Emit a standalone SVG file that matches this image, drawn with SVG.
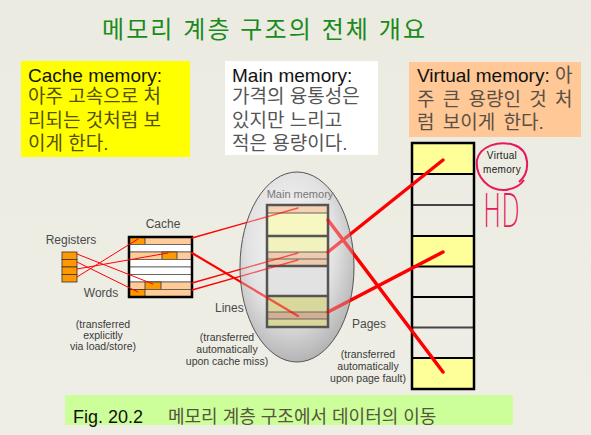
<svg xmlns="http://www.w3.org/2000/svg" width="591" height="435" viewBox="0 0 591 435">
<defs>
<style>
.t{font-family:"Liberation Sans",Arial,sans-serif}
.k{font-family:"Liberation Sans","Noto Sans CJK KR",sans-serif}
.lbl{font-family:"Liberation Sans",Arial,sans-serif;font-size:12px;fill:#4a4a4a}
.sm{font-family:"Liberation Sans",Arial,sans-serif;font-size:10.5px;fill:#3a3a3a;text-anchor:middle}
.or{fill:#FF9900;stroke:#333;stroke-width:0.8}
.pe{fill:#FFCC99;stroke:#555;stroke-width:0.8}
.wh{fill:#FFFFFF;stroke:#555;stroke-width:0.8}
.vy{fill:#FFFF99}
.red{stroke:#FF0000;fill:none;stroke-linecap:round}
</style>
<radialGradient id="eg" cx="0.45" cy="0.38" r="0.7">
<stop offset="0" stop-color="#FAFAFA"/>
<stop offset="0.55" stop-color="#E2E2E2"/>
<stop offset="1" stop-color="#A6A6A6"/>
</radialGradient>
<linearGradient id="bg" x1="0" y1="0" x2="0" y2="1">
<stop offset="0" stop-color="#EBEBE1"/>
<stop offset="1" stop-color="#EEEEE6"/>
</linearGradient>
<mask id="em" maskUnits="userSpaceOnUse" x="0" y="0" width="591" height="435">
<rect x="0" y="0" width="591" height="435" fill="#fff"/>
<ellipse cx="297" cy="267" rx="57" ry="95" fill="#9a9a9a"/>
</mask>
</defs>
<rect x="0" y="0" width="591" height="435" fill="url(#bg)"/>

<text class="k" x="263.5" y="38" font-size="24" fill="#1A8A1A" text-anchor="middle" textLength="323" lengthAdjust="spacing">메모리 계층 구조의 전체 개요</text>

<g id="cache-note">
<rect x="21" y="61" width="169" height="96" fill="#FFFF00"/>
<text class="t" x="28" y="82" font-size="19" fill="#111">Cache memory:</text>
<text class="k" x="28" y="103" font-size="19" fill="#55500A">아주 고속으로 처</text>
<text class="k" x="28" y="127" font-size="19" fill="#55500A">리되는 것처럼 보</text>
<text class="k" x="28" y="150" font-size="19" fill="#55500A">이게 한다.</text>
</g>

<g id="main-note">
<rect x="225" y="61" width="153" height="94" fill="#FFFFFF"/>
<text class="t" x="232" y="82" font-size="19" fill="#111">Main memory:</text>
<text class="k" x="232" y="103" font-size="19" fill="#555">가격의 융통성은</text>
<text class="k" x="232" y="127" font-size="19" fill="#555">있지만 느리고</text>
<text class="k" x="232" y="150" font-size="19" fill="#555">적은 용량이다.</text>
</g>

<g id="virtual-note">
<rect x="409" y="62" width="172" height="75" fill="#FFC896"/>
<text class="k" x="417" y="82" font-size="19"><tspan fill="#111">Virtual memory:</tspan><tspan fill="#5a4f45"> 아</tspan></text>
<text class="k" x="417" y="106" font-size="19" fill="#5a4f45" word-spacing="3">주 큰 용량인 것 처</text>
<text class="k" x="417" y="129" font-size="19" fill="#5a4f45" word-spacing="3">럼 보이게 한다.</text>
</g>

<g id="registers">
<rect class="or" x="62" y="252" width="15" height="7.5"/>
<rect class="or" x="62" y="259.5" width="15" height="7.5"/>
<rect class="or" x="62" y="267" width="15" height="7.5"/>
<rect class="or" x="62" y="274.5" width="15" height="7.5"/>
<text class="lbl" x="71" y="244" text-anchor="middle">Registers</text>
</g>

<g id="cache">
<rect class="pe" x="129" y="237" width="63" height="7.5"/>
<rect class="or" x="129" y="237" width="16" height="7.5"/>
<rect class="wh" x="129" y="244.5" width="63" height="7.5"/>
<rect class="pe" x="129" y="252" width="63" height="7.5"/>
<rect class="or" x="162" y="252" width="15" height="7.5"/>
<rect class="wh" x="129" y="259.5" width="63" height="7.5"/>
<rect class="wh" x="129" y="267" width="63" height="7.5"/>
<rect class="wh" x="129" y="274.5" width="63" height="7.5"/>
<rect class="pe" x="129" y="282" width="63" height="7.5"/>
<rect class="or" x="145" y="282" width="16" height="7.5"/>
<rect class="pe" x="129" y="289.5" width="63" height="7.5"/>
<rect class="or" x="129" y="289.5" width="16" height="7.5"/>
<rect x="129" y="237" width="63" height="60" fill="none" stroke="#000" stroke-width="2.5"/>
<text class="lbl" x="163" y="228" text-anchor="middle">Cache</text>
</g>

<g id="virtual-memory">
<rect class="vy" x="412" y="143" width="62" height="31"/>
<rect class="vy" x="412" y="236" width="62" height="30.5"/>
<rect class="vy" x="412" y="358" width="62" height="31"/>
<g stroke="#000" stroke-width="2">
<line x1="412" y1="174" x2="474" y2="174"/>
<line x1="412" y1="205" x2="474" y2="205" stroke="#444"/>
<line x1="412" y1="236" x2="474" y2="236"/>
<line x1="412" y1="266.5" x2="474" y2="266.5"/>
<line x1="412" y1="297" x2="474" y2="297"/>
<line x1="412" y1="327.5" x2="474" y2="327.5" stroke="#444"/>
<line x1="412" y1="358" x2="474" y2="358"/>
</g>
<rect x="412" y="143" width="62" height="246" fill="none" stroke="#000" stroke-width="2.5"/>
<text class="t" x="502" y="159" font-size="10" fill="#222" text-anchor="middle" letter-spacing="0.3">Virtual</text>
<text class="t" x="502" y="173" font-size="10" fill="#222" text-anchor="middle" letter-spacing="0.3">memory</text>
<path d="M519,182 C531,172 530,150 514,145 C499,140 480,146 477,160 C475,177 489,191 505,190 C514,189 520,186 524,180" fill="none" stroke="#E8195A" stroke-width="2"/>
<text x="483" y="227" font-family="'DejaVu Sans', 'Liberation Sans', sans-serif" font-weight="200" font-size="46" fill="#E8195A" textLength="37" lengthAdjust="spacingAndGlyphs">HD</text>
</g>

<g id="main-memory">
<ellipse cx="297" cy="267" rx="57" ry="95" fill="url(#eg)" stroke="#555" stroke-width="1"/>
<text class="t" x="300" y="198" font-size="11" fill="#777" text-anchor="middle">Main memory</text>
<rect x="267" y="205" width="61" height="8" fill="#F5D2B2"/>
<rect x="267" y="213" width="61" height="23" fill="#F7F7C2"/>
<rect x="267" y="236" width="61" height="16" fill="#F2F2BE"/>
<rect x="267" y="252" width="61" height="14" fill="#EDCBAC"/>
<rect x="267" y="266" width="61" height="30" fill="#E2E2E2"/>
<rect x="267" y="296" width="61" height="16" fill="#D8D89C"/>
<rect x="267" y="312" width="61" height="7" fill="#D4AE90"/>
<rect x="267" y="319" width="61" height="8" fill="#D8D89C"/>
<g stroke="#666" stroke-width="1">
<line x1="267" y1="213" x2="328" y2="213"/>
<line x1="267" y1="252" x2="328" y2="252"/>
<line x1="267" y1="259" x2="328" y2="259"/>
<line x1="267" y1="312" x2="328" y2="312"/>
<line x1="267" y1="319" x2="328" y2="319"/>
</g>
<g stroke="#555" stroke-width="2.5">
<line x1="267" y1="236" x2="328" y2="236"/>
<line x1="267" y1="266" x2="328" y2="266"/>
<line x1="267" y1="296" x2="328" y2="296"/>
</g>
<rect x="267" y="205" width="61" height="122" fill="none" stroke="#555" stroke-width="2.5"/>
</g>

<g id="connectors" mask="url(#em)">
<g class="red" stroke-width="1">
<line x1="77" y1="254" x2="153" y2="284"/>
<line x1="77" y1="262" x2="138" y2="292"/>
<line x1="77" y1="269" x2="168" y2="253"/>
<line x1="77" y1="277" x2="138" y2="239"/>
</g>
<g class="red" stroke-width="1.4">
<line x1="192" y1="238" x2="298" y2="208"/>
<line x1="192" y1="283" x2="298" y2="253"/>
<line x1="192" y1="290" x2="298" y2="260"/>
</g>
<line class="red" x1="192" y1="253" x2="298" y2="316" stroke-width="2.2"/>
<g class="red" stroke-width="3.5">
<line x1="328" y1="220" x2="443" y2="372"/>
<line x1="328" y1="252" x2="443" y2="160"/>
<line x1="328" y1="312" x2="443" y2="252"/>
</g>
</g>

<g id="labels">
<text class="lbl" x="101" y="297" text-anchor="middle">Words</text>
<text class="sm" x="103" y="328">(transferred</text>
<text class="sm" x="103" y="339">explicitly</text>
<text class="sm" x="103" y="350">via load/store)</text>
<text class="lbl" x="215" y="312">Lines</text>
<text class="sm" x="227" y="341">(transferred</text>
<text class="sm" x="227" y="353">automatically</text>
<text class="sm" x="227" y="365">upon cache miss)</text>
<text class="lbl" x="352" y="328">Pages</text>
<text class="sm" x="368" y="358">(transferred</text>
<text class="sm" x="368" y="370">automatically</text>
<text class="sm" x="368" y="382">upon page fault)</text>
</g>

<g id="caption">
<rect x="65" y="395" width="448" height="30" fill="#CCFF99"/>
<text class="k" x="73" y="423" font-size="18"><tspan fill="#111">Fig. 20.2</tspan><tspan x="168" fill="#555540">메모리 계층 구조에서 데이터의 이동</tspan></text>
</g>
</svg>
